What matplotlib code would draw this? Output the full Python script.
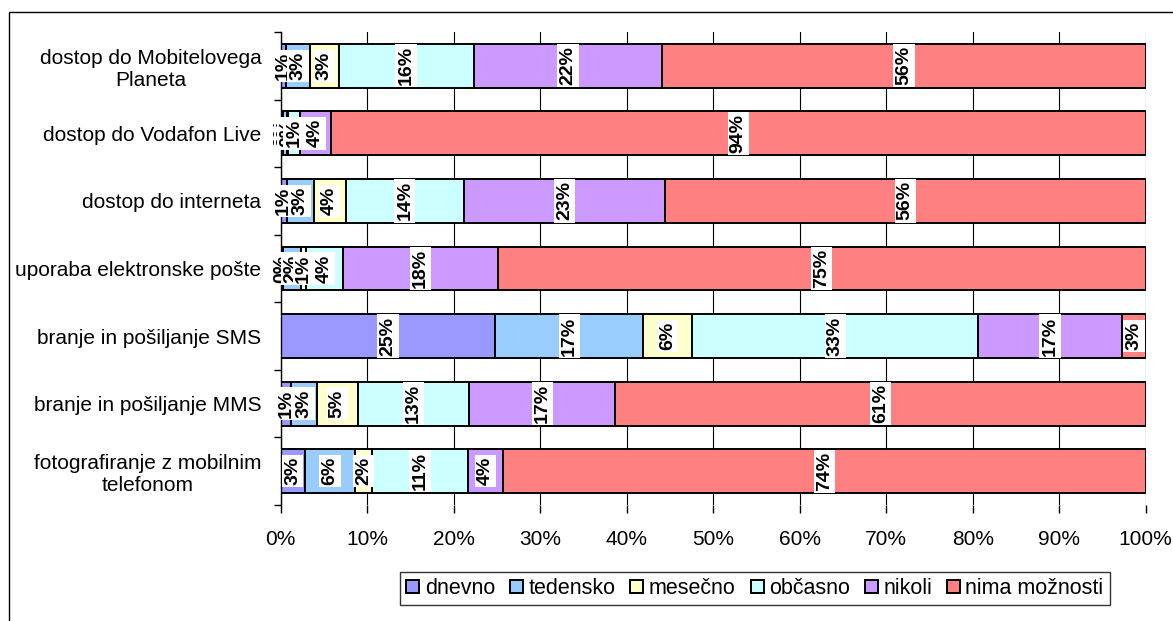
import matplotlib
matplotlib.use('Agg')
import matplotlib.pyplot as plt
import numpy as np
from matplotlib.patches import Rectangle

plt.rcParams['font.family'] = ['Liberation Sans', 'DejaVu Sans']

# kategorije (od zgoraj navzdol)
kategorije = ['dostop do Mobitelovega\nPlaneta', 'dostop do Vodafon Live',
              'dostop do interneta', 'uporaba elektronske pošte',
              'branje in pošiljanje SMS', 'branje in pošiljanje MMS',
              'fotografiranje z mobilnim\ntelefonom']

# deleži v %
dnevno = [0.6, 0.3, 0.7, 0.3, 24.8, 1.2, 2.8]
tedensko = [2.8, 0.4, 3.1, 2.0, 17.1, 3.0, 5.8]
mesecno = [3.3, 0.2, 3.7, 0.6, 5.7, 4.7, 2.0]
obcasno = [15.6, 1.3, 13.7, 4.3, 33.0, 12.9, 11.0]
nikoli = [21.8, 3.6, 23.2, 17.9, 16.7, 16.9, 4.1]
nima = [55.9, 94.2, 55.6, 74.9, 2.7, 61.3, 74.3]

serije = ['dnevno', 'tedensko', 'mesečno', 'občasno', 'nikoli', 'nima možnosti']
barve = ['#9999FF', '#99CCFF', '#FFFFCC', '#CCFFFF', '#CC99FF', '#FF8080']
podatki = [dnevno, tedensko, mesecno, obcasno, nikoli, nima]

fig = plt.figure(figsize=(11.73, 6.21), dpi=100)
ax = fig.add_axes([280.7/1173, 1-505/621, 865/1173, 473/621])

y = np.arange(len(kategorije))
levo = np.zeros(len(kategorije))
for ime, barva, vr in zip(serije, barve, podatki):
    vr = np.array(vr)
    ax.barh(y, vr, left=levo, height=0.65, color=barva, edgecolor='black',
            linewidth=1.4, label=ime, zorder=2)
    for yi, l, v in zip(y, levo, vr):
        ax.text(l + v/2, yi, '%d%%' % round(v), rotation=90, ha='center', va='center',
                fontsize=14, fontweight='bold', zorder=4,
                bbox=dict(facecolor='white', edgecolor='none', pad=1.5))
    levo += vr

ax.set_xlim(0, 100)
ax.set_ylim(len(kategorije)-0.5, -0.5)
ax.set_xticks(np.arange(0, 101, 10))
ax.set_xticklabels(['%d%%' % v for v in range(0, 101, 10)], fontsize=15)
ax.set_yticks(y)
ax.set_yticklabels(kategorije, fontsize=15)
for lab in ax.get_yticklabels():
    lab.set_multialignment('center')
ax.set_yticks(np.arange(-0.5, len(kategorije), 1), minor=True)
ax.tick_params(axis='y', which='major', length=0, pad=14)
ax.tick_params(axis='y', which='minor', length=5, width=1, direction='out')
ax.tick_params(axis='x', length=6, width=1, direction='out', pad=12)
ax.xaxis.grid(True, color='black', linewidth=0.8, zorder=0)
ax.set_axisbelow(True)
for s in ['top', 'right', 'bottom']:
    ax.spines[s].set_visible(False)
ax.spines['left'].set_linewidth(1)

leg = fig.legend(loc='center', bbox_to_anchor=(755/1173, 1-588.5/621), ncol=6,
                 fontsize=15.5, frameon=True, fancybox=False, edgecolor='black',
                 handlelength=0.6, handleheight=0.6, handletextpad=0.25,
                 columnspacing=0.7, borderpad=0.3, borderaxespad=0)
leg.get_frame().set_linewidth(1)

# okvir slike
fig.patches.append(Rectangle((9/1173, -0.1), 1.2, 1.1 - 12/621, transform=fig.transFigure,
                             fill=False, edgecolor='black', linewidth=1))

fig.savefig('out.png', dpi=100)
